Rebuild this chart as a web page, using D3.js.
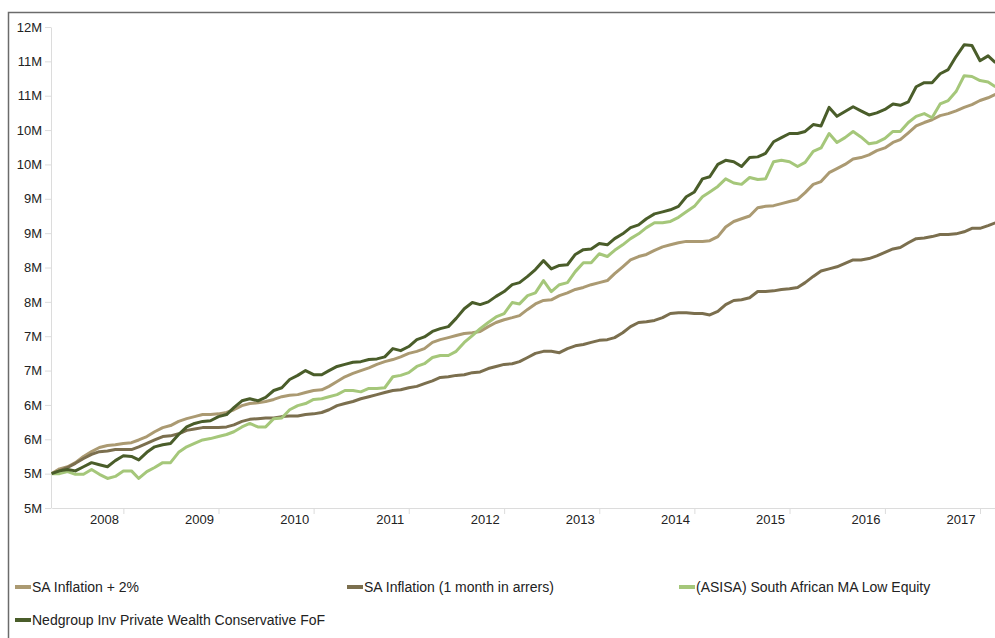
<!DOCTYPE html>
<html>
<head>
<meta charset="utf-8">
<script src="https://cdn.jsdelivr.net/npm/d3@7"></script>
<style>
  body { margin: 0; background: #fff; }
  text { font-family: "Liberation Sans", Arial, sans-serif; }
</style>
</head>
<body>
<div id="chart"></div>
<script>
const width = 995
const height = 638
const margin = {top: 27, bottom: 130, left: 51, right: 0}

// monthly values, in millions, starting April 2008
const startMonth = new Date(2008, 3, 1)
const saInflationPlus2 = [5.00,5.07,5.10,5.16,5.25,5.32,5.38,5.41,5.42,5.44,5.45,5.49,5.54,5.61,5.67,5.70,5.76,5.80,5.83,5.86,
  5.86,5.87,5.89,5.93,5.99,6.02,6.03,6.05,6.08,6.12,6.14,6.15,6.18,6.21,6.22,6.27,6.34,6.41,6.46,6.50,
  6.54,6.59,6.63,6.66,6.70,6.75,6.78,6.82,6.91,6.95,6.98,7.01,7.04,7.05,7.07,7.14,7.20,7.24,7.27,7.30,
  7.39,7.47,7.52,7.53,7.59,7.63,7.68,7.71,7.75,7.78,7.81,7.91,8.01,8.11,8.16,8.19,8.25,8.30,8.33,8.36,
  8.38,8.38,8.38,8.39,8.45,8.59,8.67,8.71,8.75,8.87,8.89,8.90,8.93,8.96,8.99,9.09,9.21,9.25,9.38,9.44,
  9.50,9.58,9.60,9.64,9.70,9.74,9.82,9.86,9.96,10.06,10.11,10.15,10.21,10.24,10.28,10.33,10.37,10.43,10.47,10.52]
const saInflation = [5.00,5.04,5.09,5.15,5.22,5.28,5.32,5.33,5.35,5.35,5.35,5.39,5.44,5.49,5.54,5.55,5.58,5.63,5.65,5.67,
  5.67,5.67,5.68,5.71,5.76,5.79,5.80,5.81,5.81,5.83,5.84,5.84,5.86,5.87,5.89,5.93,5.99,6.02,6.05,6.09,
  6.12,6.15,6.18,6.21,6.22,6.25,6.27,6.31,6.35,6.40,6.41,6.43,6.44,6.47,6.48,6.53,6.56,6.59,6.60,6.63,
  6.69,6.75,6.78,6.78,6.76,6.82,6.86,6.88,6.91,6.94,6.95,6.98,7.05,7.14,7.20,7.21,7.23,7.27,7.33,7.34,
  7.34,7.33,7.33,7.31,7.36,7.46,7.52,7.53,7.56,7.65,7.65,7.66,7.68,7.69,7.71,7.78,7.87,7.95,7.98,8.01,
  8.06,8.11,8.11,8.13,8.17,8.22,8.27,8.29,8.36,8.42,8.43,8.45,8.48,8.48,8.49,8.52,8.57,8.57,8.61,8.65]
const asisaLowEquity = [5.00,5.00,5.03,4.99,4.99,5.06,4.99,4.93,4.96,5.04,5.04,4.93,5.03,5.09,5.16,5.16,5.31,5.39,5.44,5.49,
  5.51,5.54,5.57,5.61,5.68,5.73,5.68,5.68,5.80,5.81,5.93,5.99,6.02,6.08,6.09,6.12,6.15,6.21,6.21,6.19,
  6.24,6.24,6.25,6.41,6.43,6.47,6.56,6.60,6.69,6.72,6.72,6.78,6.91,7.01,7.11,7.20,7.28,7.33,7.49,7.47,
  7.59,7.63,7.81,7.65,7.75,7.78,7.94,8.07,8.07,8.20,8.16,8.25,8.33,8.42,8.49,8.58,8.65,8.65,8.67,8.73,
  8.81,8.89,9.03,9.10,9.18,9.29,9.23,9.21,9.31,9.28,9.29,9.54,9.56,9.54,9.47,9.53,9.69,9.74,9.95,9.82,
  9.89,9.98,9.90,9.80,9.82,9.88,9.98,9.98,10.11,10.20,10.24,10.18,10.38,10.43,10.56,10.79,10.78,10.72,10.70,10.63]
const nedgroupConservative = [5.00,5.04,5.06,5.04,5.10,5.16,5.13,5.10,5.19,5.26,5.25,5.20,5.31,5.39,5.42,5.44,5.57,5.68,5.73,5.76,
  5.77,5.83,5.86,5.96,6.06,6.09,6.06,6.11,6.21,6.25,6.37,6.43,6.50,6.44,6.44,6.50,6.56,6.59,6.62,6.63,
  6.66,6.67,6.70,6.82,6.79,6.85,6.95,6.99,7.07,7.11,7.14,7.26,7.40,7.49,7.46,7.50,7.58,7.65,7.75,7.78,
  7.87,7.97,8.10,7.98,8.03,8.04,8.19,8.26,8.27,8.35,8.33,8.42,8.49,8.58,8.62,8.71,8.78,8.81,8.84,8.89,
  9.03,9.10,9.29,9.32,9.50,9.56,9.54,9.47,9.60,9.61,9.66,9.83,9.89,9.95,9.95,9.98,10.08,10.06,10.33,10.20,
  10.27,10.34,10.28,10.22,10.25,10.30,10.38,10.36,10.41,10.63,10.69,10.69,10.82,10.88,11.07,11.24,11.23,11.01,11.08,10.98]

const seriesNames = ["SA Inflation + 2%", "SA Inflation (1 month in arrers)", "(ASISA) South African MA Low Equity", "Nedgroup Inv Private Wealth Conservative FoF"]
const seriesValues = [saInflationPlus2, saInflation, asisaLowEquity, nedgroupConservative]
const seriesColors = ["#ab9a72", "#7b6f4e", "#a5c77a", "#4a5d2a"]
const yearLabels = ["2008", "2009", "2010", "2011", "2012", "2013", "2014", "2015", "2016", "2017"]
const yTicks = [4.5, 5, 5.5, 6, 6.5, 7, 7.5, 8, 8.5, 9, 9.5, 10, 10.5, 11, 11.5]

const months = saInflationPlus2.map((d, i) => d3.timeMonth.offset(startMonth, i))

const svg = d3.select("#chart").append("svg").attr("width", width).attr("height", height)

// frame
svg.append("rect")
  .attr("x", 8.5).attr("y", 12.5)
  .attr("width", width + 20).attr("height", height + 20)
  .attr("fill", "none").attr("stroke", "#6b6b6b").attr("stroke-width", 1.5)

const x = d3.scaleTime().domain([months[0], months[months.length - 1]]).range([margin.left + 0.7, width + 0.4])
const y = d3.scaleLinear().domain([4.5, 11.5]).range([508, margin.top])

const xAxis = d3.axisBottom(x)
  .tickValues(yearLabels.map(d => new Date(+d + 1, 0, 1)))
  .tickFormat((d, i) => yearLabels[i])
  .tickSize(6).tickSizeOuter(0).tickPadding(1)
const yAxis = d3.axisLeft(y)
  .tickValues(yTicks)
  .tickFormat(d => Math.round(d) + "M")
  .tickSize(6).tickSizeOuter(0).tickPadding(3)

const xAxisGroup = svg.append("g").attr("transform", `translate(0, 508)`).call(xAxis)
xAxisGroup.selectAll("text").attr("text-anchor", "end").attr("x", -5)
const yAxisGroup = svg.append("g").attr("transform", `translate(${margin.left}, 0)`).call(yAxis)

svg.selectAll(".domain, .tick line").attr("stroke", "#dcdcdc")
svg.selectAll(".tick text").attr("fill", "#222").attr("font-size", 13)
  .attr("font-family", "'Liberation Sans', Arial, sans-serif")

svg.append("clipPath").attr("id", "plot")
  .append("rect").attr("x", margin.left).attr("y", 0).attr("width", width - margin.left).attr("height", 508)

const line = d3.line()
  .x((d, i) => x(months[i]))
  .y(d => y(d))

const elementGroup = svg.append("g").attr("clip-path", "url(#plot)")
elementGroup.selectAll("path")
  .data(seriesValues)
  .join("path")
    .attr("d", d => line(d))
    .attr("fill", "none")
    .attr("stroke", (d, i) => seriesColors[i])
    .attr("stroke-width", 3)
    .attr("stroke-linejoin", "round")

// legend
const legendPos = [[15, 587], [347, 587], [679, 587], [15, 620]]
const legend = svg.append("g")
  .selectAll("g")
  .data(seriesNames)
  .join("g")
    .attr("transform", (d, i) => `translate(${legendPos[i][0]}, ${legendPos[i][1]})`)
legend.append("rect")
  .attr("x", 0).attr("y", -2).attr("width", 16).attr("height", 4)
  .attr("fill", (d, i) => seriesColors[i])
legend.append("text")
  .attr("x", 17).attr("y", 5)
  .attr("font-size", 14).attr("fill", "#222")
  .text(d => d)
</script>
</body>
</html>
